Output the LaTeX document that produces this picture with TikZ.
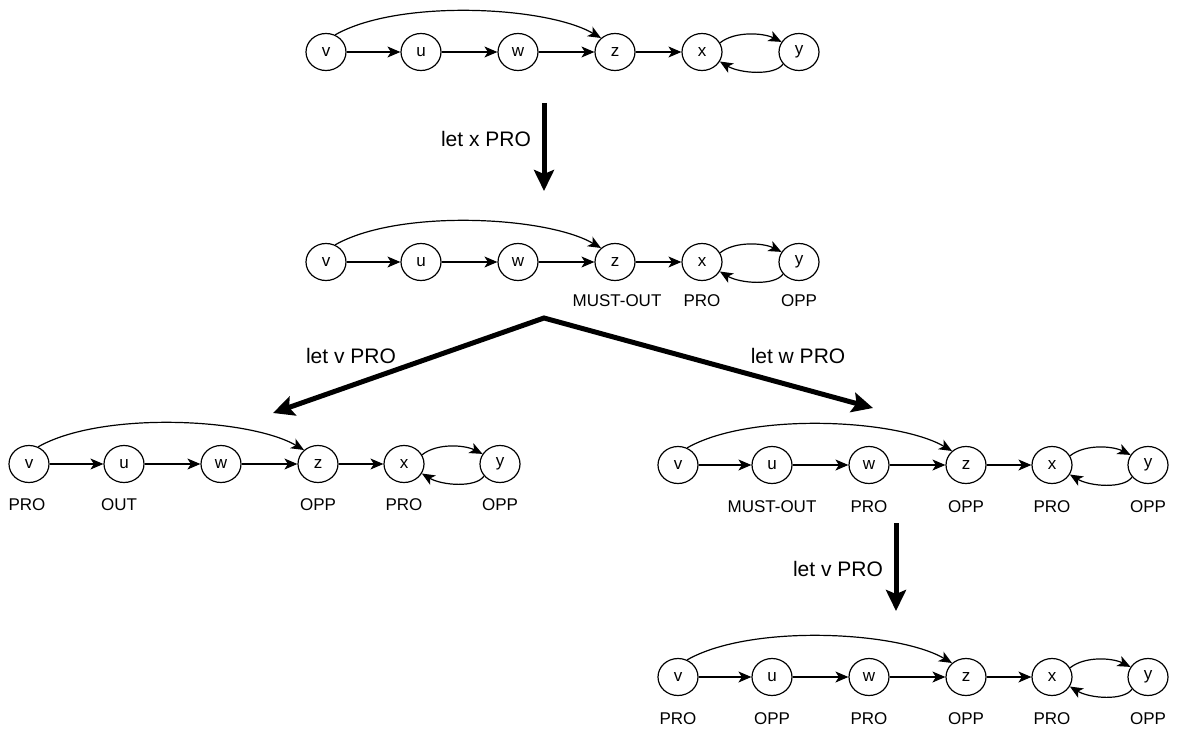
\documentclass[tikz,border=0pt]{standalone}
\usepackage{fontspec}
\setmainfont{Liberation Sans}
\usetikzlibrary{arrows.meta,shapes.geometric}
\tikzset{
  vert/.style={draw, ellipse, minimum width=40pt, minimum height=37pt, inner sep=0pt, line width=1.2pt, font=\fontsize{17}{20}\selectfont},
  edge/.style={-{Stealth[length=13pt,width=11pt,inset=3.5pt]}, line width=1.2pt},
  lbl/.style={font=\fontsize{17}{20}\selectfont, inner sep=0pt},
  biglbl/.style={font=\fontsize{21}{25}\selectfont, inner sep=0pt},
  bigarrow/.style={line width=5pt, -{Stealth[length=21pt,width=20pt,inset=4pt]}},
  bigboth/.style={line width=5pt, {Stealth[length=21pt,width=20pt,inset=4pt]}-{Stealth[length=21pt,width=20pt,inset=4pt]}, line join=miter}
}
\newcommand\mkgraph[8]{%
  \node[vert] (#1v) at (#3,#2) {v};
  \node[vert] (#1u) at (#4,#2) {u};
  \node[vert] (#1w) at (#5,#2) {w};
  \node[vert] (#1z) at (#6,#2) {z};
  \node[vert] (#1x) at (#7,#2) {x};
  \node[vert] (#1y) at (#8,#2) {y};
  \draw[edge] (#1v) -- (#1u);
  \draw[edge] (#1u) -- (#1w);
  \draw[edge] (#1w) -- (#1z);
  \draw[edge] (#1z) -- (#1x);
  \draw[edge] (#1v.62) .. controls +(63,-36) and +(-55,-32) .. (#1z.135);
  \draw[edge] (#1x.27) .. controls +(15,-12) and +(-18,-9) .. (#1y.150);
  \draw[edge] (#1y.217) .. controls +(-8,12) and +(20,12) .. (#1x.-28);
}
\begin{document}
\begin{tikzpicture}[x=1pt,y=-1pt]
\fill[white] (0,0) rectangle (1188,733);
\useasboundingbox (0,0) rectangle (1188,733);
% graphs
\mkgraph{a}{52}{326}{421}{518}{615}{702}{799}
\mkgraph{b}{262}{326}{421}{518}{615}{702}{799}
\mkgraph{c}{464}{29}{124}{221}{318}{404}{500}
\mkgraph{d}{465}{678}{772}{869}{966}{1052}{1148}
\mkgraph{e}{677}{678}{772}{869}{966}{1052}{1148}
% labels graph b
\node[lbl] (bzl) at (617,301) {MUST-OUT};
\node[lbl] (bxl) at (702,301) {PRO};
\node[lbl] (byl) at (799,301) {OPP};
% labels graph c
\node[lbl] (cvl) at (27,505) {PRO};
\node[lbl] (cul) at (119,505) {OUT};
\node[lbl] (czl) at (318,505) {OPP};
\node[lbl] (cxl) at (404,505) {PRO};
\node[lbl] (cyl) at (500,505) {OPP};
% labels graph d
\node[lbl] (dul) at (772,507) {MUST-OUT};
\node[lbl] (dwl) at (869,507) {PRO};
\node[lbl] (dzl) at (966,507) {OPP};
\node[lbl] (dxl) at (1052,507) {PRO};
\node[lbl] (dyl) at (1148,507) {OPP};
% labels graph e
\node[lbl] (evl) at (678,719) {PRO};
\node[lbl] (eul) at (772,719) {OPP};
\node[lbl] (ewl) at (869,719) {PRO};
\node[lbl] (ezl) at (966,719) {OPP};
\node[lbl] (exl) at (1052,719) {PRO};
\node[lbl] (eyl) at (1148,719) {OPP};
% big arrows
\coordinate (s1) at (544,103);
\coordinate (t1) at (544,191);
\coordinate (apex) at (544,318);
\coordinate (tl) at (273,413);
\coordinate (tr) at (873,408);
\coordinate (s4) at (896,523);
\coordinate (t4) at (896,611);
\draw[bigarrow] (s1) -- (t1);
\draw[bigboth] (tl) -- (apex) -- (tr);
\draw[bigarrow] (s4) -- (t4);
\node[biglbl] (l1) at (486,139) {let x PRO};
\node[biglbl] (l2) at (351,356) {let v PRO};
\node[biglbl] (l3) at (798,356) {let w PRO};
\node[biglbl] (l4) at (838,569) {let v PRO};
\end{tikzpicture}
\end{document}
